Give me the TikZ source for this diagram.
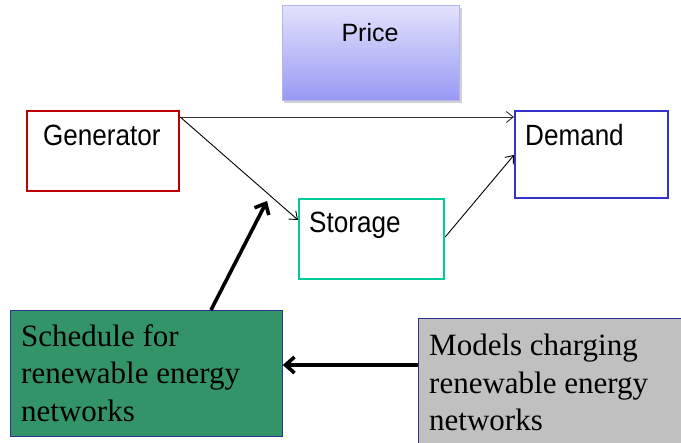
\documentclass[tikz,border=0pt]{standalone}
\usepackage{fontspec}
\setmainfont{Liberation Serif}
\newfontfamily\arialf{Liberation Sans}
\newfontfamily\arialn[FakeStretch=0.89]{Liberation Sans}
\usetikzlibrary{arrows.meta,calc}
\definecolor{genred}{HTML}{C00000}
\definecolor{demblue}{HTML}{3333CC}
\definecolor{stoteal}{HTML}{00CC99}
\definecolor{schgreen}{HTML}{33946A}
\definecolor{modgray}{HTML}{C0C0C0}
\definecolor{edgeblue}{HTML}{2E3192}
\definecolor{pricetop}{HTML}{E2E2FC}
\definecolor{pricebot}{HTML}{9999F5}
\definecolor{priceedge}{HTML}{B4B4EE}
\newcommand\sanstext{\arialn\fontsize{29.3}{33}\selectfont}
\newcommand\pricetext{\arialf\fontsize{25}{30}\selectfont}
\newcommand\serifbig{\fontsize{31}{37.5}\selectfont}
\tikzset{
  box/.style={draw, line width=2.2pt, minimum width=#1, inner sep=0pt, anchor=north west},
  lbl/.style={inner sep=0pt, anchor=base west, font=\sanstext},
  serlbl/.style={inner sep=0pt, anchor=north west, align=left, font=\serifbig},
  thinarrow/.style={draw, line width=0.9pt, -{Straight Barb[length=7pt,width=11pt]}},
  thickarrow/.style={draw, line width=3.6pt, -{Straight Barb[length=9pt,width=16pt]}},
}
\begin{document}
\begin{tikzpicture}[x=1pt,y=-1pt]
\useasboundingbox (0,0) rectangle (681,443);
% Price
\fill[black!30, opacity=0.6] (284,8) rectangle (462,103);
\node[box, minimum width=177pt, minimum height=95pt, line width=0.6pt, draw=priceedge,
      top color=pricetop, bottom color=pricebot] (price) at (282,5) {};
\node[inner sep=0pt, anchor=base, font=\pricetext] (pricet) at (370,42) {Price};
% Generator
\node[box, draw=genred, minimum width=152pt, minimum height=80pt] (gen) at (26,110) {};
\node[lbl] (gent) at (43,146) {Generator};
% Demand
\node[box, draw=demblue, minimum width=153pt, minimum height=87pt] (dem) at (514,110) {};
\node[lbl] (demt) at (525,146) {Demand};
% Storage
\node[box, draw=stoteal, minimum width=145pt, minimum height=80pt] (sto) at (298,198) {};
\node[lbl] (stot) at (309,233) {Storage};
% Schedule
\node[box, line width=0.8pt, draw=edgeblue, fill=schgreen, minimum width=272pt, minimum height=126pt] (sch) at (10,310) {};
\node[serlbl] (scht) at (21,324) {Schedule for\\renewable energy\\networks};
% Models
\node[box, line width=0.8pt, draw=edgeblue, fill=modgray, minimum width=280pt, minimum height=140pt] (mod) at (418,318) {};
\node[serlbl] (modt) at (429,334) {Models charging\\renewable energy\\networks};
% connectors
\coordinate (tip) at (267,201);
\draw[thinarrow, draw=black!80] ($(gen.north east)+(0,7)$) -- ($(dem.north west)+(0,7)$);
\draw[thinarrow] ($(gen.north east)+(0,7)$) -- ($(sto.north west)+(0,22)$);
\draw[thinarrow] ($(sto.north east)+(0,39)$) -- ($(dem.north west)+(0,45)$);
\draw[thickarrow] ($(sch.north west)+(201,0)$) -- (tip);
\draw[thickarrow] ($(mod.north west)+(0,47)$) -- ($(sch.north east)+(0,55)$);
\end{tikzpicture}
\end{document}
